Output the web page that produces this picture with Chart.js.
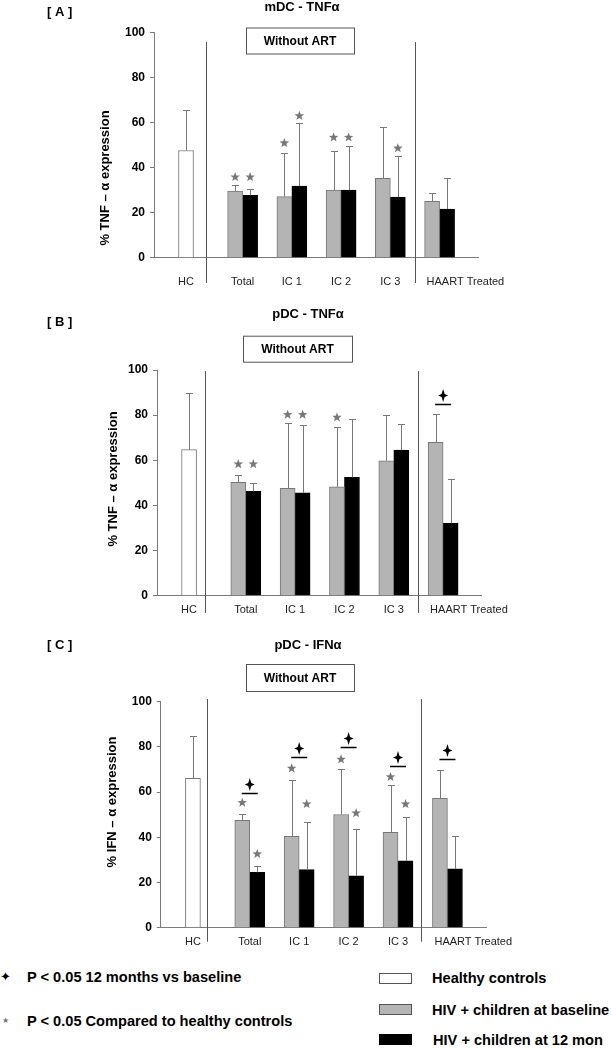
<!DOCTYPE html>
<html>
<head>
<meta charset="utf-8">
<script src="https://cdn.jsdelivr.net/npm/chart.js@4.4.1/dist/chart.umd.min.js"></script>
<style>
  body { margin: 0; background: #fff; font-family: 'Liberation Sans', Arial, sans-serif; }
  #page { position: relative; width: 611px; height: 1050px; overflow: hidden; }
  #page canvas { position: absolute; left: 0; }
  .leg { position: absolute; font-weight: bold; font-size: 14.6px; line-height: 16px; white-space: nowrap; color: #000; }
  .sw { position: absolute; width: 33px; height: 11px; box-sizing: border-box; border: 1px solid #555; }
  .glyph { position: absolute; line-height: 16px; font-family: 'DejaVu Sans', sans-serif; }
</style>
</head>
<body>
<div id="page">
  <canvas id="panelA" width="611" height="300" style="top:0px"></canvas>
  <canvas id="panelB" width="611" height="330" style="top:300px"></canvas>
  <canvas id="panelC" width="611" height="330" style="top:630px"></canvas>

  <span class="glyph" style="left:0px; top:969px; font-size:13px; color:#000">&#10022;</span>
  <span class="leg" style="left:27px; top:969px">P &lt; 0.05 12 months vs baseline</span>
  <span class="glyph" style="left:2px; top:1013px; font-size:8px; color:#777">&#9733;</span>
  <span class="leg" style="left:27px; top:1013px">P &lt; 0.05 Compared to healthy controls</span>

  <div class="sw" style="left:379px; top:973px; background:#fff"></div>
  <span class="leg" style="left:432px; top:970px">Healthy controls</span>
  <div class="sw" style="left:379px; top:1004px; background:#b4b4b4"></div>
  <span class="leg" style="left:432px; top:1002px">HIV + children at baseline</span>
  <div class="sw" style="left:379px; top:1034px; background:#000; border-color:#000"></div>
  <span class="leg" style="left:433px; top:1032px">HIV + children at 12 mon</span>
</div>

<script>
// values (% of cells expressing the cytokine)
const categories = ['HC', 'Total', 'IC 1', 'IC 2', 'IC 3', 'HAART Treated'];

// [A] mDC - TNFa
const mdcTnfHealthy    = [47.6, null, null, null, null, null];
const mdcTnfHealthyErr = [65.7, null, null, null, null, null];
const mdcTnfBase       = [null, 29.6, 27.1, 30.0, 35.2, 25.0];
const mdcTnfBaseErr    = [null, 32.1, 46.7, 47.3, 58.1, 28.6];
const mdcTnf12m        = [null, 27.7, 31.8, 30.0, 26.9, 21.6];
const mdcTnf12mErr     = [null, 30.6, 59.6, 49.4, 45.0, 35.5];
const mdcTnfStarBase   = [null, 35.8, 50.9, 53.4, null, null];
const mdcTnfStar12m    = [null, 35.8, 63.0, 53.4, 48.6, null];
const mdcTnfCross      = [null, null, null, null, null, null];

// [B] pDC - TNFa
const pdcTnfHealthy    = [64.7, null, null, null, null, null];
const pdcTnfHealthyErr = [89.7, null, null, null, null, null];
const pdcTnfBase       = [null, 50.2, 47.6, 48.2, 59.8, 67.9];
const pdcTnfBaseErr    = [null, 53.6, 76.7, 74.9, 79.9, 80.4];
const pdcTnf12m        = [null, 46.2, 45.6, 52.4, 64.5, 32.1];
const pdcTnf12mErr     = [null, 49.8, 75.6, 78.1, 75.9, 51.7];
const pdcTnfStarBase   = [null, 58.3, 80.2, 79.0, null, null];
const pdcTnfStar12m    = [null, 58.3, 80.2, null, null, null];
const pdcTnfCross      = [null, null, null, null, null, 85.0];

// [C] pDC - IFNa
const pdcIfnHealthy    = [66.1, null, null, null, null, null];
const pdcIfnHealthyErr = [84.8, null, null, null, null, null];
const pdcIfnBase       = [null, 47.5, 40.4, 50.1, 42.2, 57.2];
const pdcIfnBaseErr    = [null, 50.4, 65.5, 70.2, 63.3, 69.6];
const pdcIfn12m        = [null, 24.5, 25.7, 22.9, 29.6, 26.1];
const pdcIfn12mErr     = [null, 27.4, 46.8, 43.5, 49.0, 40.7];
const pdcIfnStarBase   = [null, 55.3, 70.5, 74.5, 66.7, null];
const pdcIfnStar12m    = [null, 32.6, 54.7, 50.7, 54.7, null];
const pdcIfnCross      = [null, 59.7, 75.4, 79.8, 71.7, 74.6];

const yTicks = [0, 20, 40, 60, 80, 100];

// layout: where the groups sit along the x axis (axis units), not data
const groupPos = [0.65, 1.8, 2.8, 3.8, 4.8, 5.8];
const xMax = 6.58;
const axisColor = '#7a7a7a';
const FONT = "'Liberation Sans', Arial, sans-serif";

Chart.defaults.font.family = FONT;

function drawStar(ctx, cx, cy, r, color) {
  ctx.beginPath();
  for (let k = 0; k < 10; k++) {
    const rad = k % 2 === 0 ? r : r * 0.42;
    const a = -Math.PI / 2 + k * Math.PI / 5;
    const px = cx + rad * Math.cos(a), py = cy + rad * Math.sin(a);
    k === 0 ? ctx.moveTo(px, py) : ctx.lineTo(px, py);
  }
  ctx.closePath();
  ctx.fillStyle = color;
  ctx.fill();
}

function drawCross(ctx, cx, cy) {
  // sharp four-pointed mark used for the 12 months vs baseline test
  ctx.beginPath();
  ctx.moveTo(cx, cy - 6.5);
  ctx.lineTo(cx + 1.5, cy - 1.5);
  ctx.lineTo(cx + 5, cy);
  ctx.lineTo(cx + 1.5, cy + 1.5);
  ctx.lineTo(cx, cy + 6.5);
  ctx.lineTo(cx - 1.5, cy + 1.5);
  ctx.lineTo(cx - 5, cy);
  ctx.lineTo(cx - 1.5, cy - 1.5);
  ctx.closePath();
  ctx.fillStyle = '#000';
  ctx.fill();
}

function decorPlugin(d, lay) {
  return {
    id: 'panelDecor',
    afterDatasetsDraw(chart) {
      const ctx = chart.ctx, xs = chart.scales.x, ys = chart.scales.y;
      ctx.save();
      // error bars (upper only) and significance stars
      chart.data.datasets.forEach((ds, di) => {
        chart.getDatasetMeta(di).data.forEach((bar, i) => {
          if (ds.err[i] == null) return;
          const bx = Math.round(bar.x) + 0.5;
          const top = Math.round(ys.getPixelForValue(ds.err[i])) + 0.5;
          ctx.strokeStyle = '#777';
          ctx.lineWidth = 1;
          ctx.beginPath();
          ctx.moveTo(bx, bar.y);
          ctx.lineTo(bx, top);
          ctx.moveTo(bx - 3.5, top);
          ctx.lineTo(bx + 3.5, top);
          ctx.stroke();
          if (ds.stars && ds.stars[i] != null) {
            drawStar(ctx, bar.x, ys.getPixelForValue(ds.stars[i]), 5, '#777');
          }
        });
      });
      // 12 months vs baseline marks
      d.cross.forEach((v, i) => {
        if (v == null) return;
        const gx = xs.getPixelForValue(groupPos[i]);
        const ly = Math.round(ys.getPixelForValue(v)) + 0.5;
        ctx.strokeStyle = '#000';
        ctx.lineWidth = 1.5;
        ctx.beginPath();
        ctx.moveTo(gx - 8, ly);
        ctx.lineTo(gx + 8, ly);
        ctx.stroke();
        drawCross(ctx, gx, ly - 9);
      });
      ctx.restore();
    },
    afterDraw(chart) {
      const ctx = chart.ctx, xs = chart.scales.x, ca = chart.chartArea;
      ctx.save();
      ctx.fillStyle = '#000';
      ctx.textBaseline = 'middle';
      // panel tag and title
      ctx.font = 'bold 13px ' + FONT;
      ctx.textAlign = 'left';
      ctx.fillText(lay.tag, lay.tagX, lay.tagY);
      ctx.textAlign = 'center';
      ctx.fillText(lay.title, lay.titleX, lay.titleY);
      // "Without ART" box
      ctx.strokeStyle = '#555';
      ctx.lineWidth = 1;
      ctx.strokeRect(lay.box[0] + 0.5, lay.box[1] + 0.5, lay.box[2], lay.box[3]);
      ctx.font = 'bold 12px ' + FONT;
      ctx.fillText('Without ART', lay.box[0] + lay.box[2] / 2, lay.box[1] + lay.box[3] / 2 + 1);
      // group dividers
      ctx.strokeStyle = '#555';
      ctx.beginPath();
      lay.dividers.forEach(p => {
        const x = Math.round(xs.getPixelForValue(p)) + 0.5;
        ctx.moveTo(x, lay.divTop);
        ctx.lineTo(x, lay.divBottom);
      });
      ctx.stroke();
      // category labels
      ctx.font = '11px ' + FONT;
      ctx.fillStyle = '#222';
      categories.forEach((c, i) => {
        const gx = xs.getPixelForValue(groupPos[i]);
        if (i === categories.length - 1) {
          ctx.textAlign = 'left';
          ctx.fillText(c, gx - 13, lay.catY);
        } else {
          ctx.textAlign = 'center';
          ctx.fillText(c, gx, lay.catY);
        }
      });
      // y axis title
      ctx.fillStyle = '#000';
      ctx.font = 'bold 13px ' + FONT;
      ctx.translate(lay.yTitleX, lay.yTitleY != null ? lay.yTitleY : (ca.top + ca.bottom) / 2);
      ctx.rotate(-Math.PI / 2);
      ctx.textAlign = 'center';
      ctx.fillText(lay.yTitle, 0, 0);
      ctx.restore();
    }
  };
}

function buildPanel(id, d, lay) {
  const pts = arr => arr.map((v, i) => ({ x: groupPos[i], y: v }));
  const common = { borderWidth: 1, barThickness: 15, skipNull: true, borderSkipped: 'start' };
  return new Chart(document.getElementById(id), {
    type: 'bar',
    data: {
      datasets: [
        Object.assign({ label: 'Healthy controls', data: pts(d.healthy), err: d.healthyErr,
          backgroundColor: '#fff', borderColor: '#777' }, common),
        Object.assign({ label: 'HIV + children at baseline', data: pts(d.base), err: d.baseErr, stars: d.starBase,
          backgroundColor: '#b4b4b4', borderColor: '#777' }, common),
        Object.assign({ label: 'HIV + children at 12 mon', data: pts(d.m12), err: d.m12Err, stars: d.star12m,
          backgroundColor: '#000', borderColor: '#000' }, common)
      ]
    },
    options: {
      responsive: false,
      animation: false,
      events: [],
      layout: { padding: { left: 0, top: lay.top, right: 611 - lay.right, bottom: lay.h - lay.bottom } },
      plugins: { legend: { display: false }, tooltip: { enabled: false } },
      scales: {
        x: {
          type: 'linear', min: 0, max: xMax, offset: false,
          grid: { display: false }, ticks: { display: false },
          border: { color: axisColor },
          afterFit: s => { s.height = 0; }
        },
        y: {
          min: 0, max: 100,
          afterBuildTicks: s => { s.ticks = yTicks.map(v => ({ value: v })); },
          ticks: { color: '#000', font: { size: 12, weight: 'bold' }, padding: 5 },
          grid: { drawOnChartArea: false, tickLength: 4, color: axisColor },
          border: { color: axisColor },
          afterFit: s => { s.width = lay.left; }
        }
      }
    },
    plugins: [decorPlugin(d, lay)]
  });
}

buildPanel('panelA', {
  healthy: mdcTnfHealthy, healthyErr: mdcTnfHealthyErr,
  base: mdcTnfBase, baseErr: mdcTnfBaseErr, starBase: mdcTnfStarBase,
  m12: mdcTnf12m, m12Err: mdcTnf12mErr, star12m: mdcTnfStar12m,
  cross: mdcTnfCross
}, {
  h: 300, left: 154, right: 478, top: 32.5, bottom: 257.7,
  tag: '[ A ]', tagX: 47, tagY: 12, title: 'mDC - TNF\u03b1', titleX: 302, titleY: 7,
  box: [246, 27.5, 108, 26], yTitle: '% TNF \u2013 \u03b1 expression', yTitleX: 105, yTitleY: 178,
  catY: 281.7, dividers: [1.05, 5.30], divTop: 42, divBottom: 283
});

buildPanel('panelB', {
  healthy: pdcTnfHealthy, healthyErr: pdcTnfHealthyErr,
  base: pdcTnfBase, baseErr: pdcTnfBaseErr, starBase: pdcTnfStarBase,
  m12: pdcTnf12m, m12Err: pdcTnf12mErr, star12m: pdcTnfStar12m,
  cross: pdcTnfCross
}, {
  h: 330, left: 157, right: 481.6, top: 70, bottom: 295.7,
  tag: '[ B ]', tagX: 47, tagY: 22, title: 'pDC - TNF\u03b1', titleX: 308, titleY: 14,
  box: [243, 35.7, 109, 26], yTitle: '% TNF \u2013 \u03b1 expression', yTitleX: 113, yTitleY: 179,
  catY: 310.3, dividers: [0.97, 5.30], divTop: 71, divBottom: 313
});

buildPanel('panelC', {
  healthy: pdcIfnHealthy, healthyErr: pdcIfnHealthyErr,
  base: pdcIfnBase, baseErr: pdcIfnBaseErr, starBase: pdcIfnStarBase,
  m12: pdcIfn12m, m12Err: pdcIfn12mErr, star12m: pdcIfnStar12m,
  cross: pdcIfnCross
}, {
  h: 330, left: 160.8, right: 486, top: 71.7, bottom: 297.7,
  tag: '[ C ]', tagX: 47, tagY: 15, title: 'pDC - IFN\u03b1', titleX: 308, titleY: 15,
  box: [246, 34, 108, 27], yTitle: '% IFN \u2013 \u03b1 expression', yTitleX: 112, yTitleY: 172,
  catY: 312, dividers: [0.94, 5.26], divTop: 69, divBottom: 311.7
});
</script>
</body>
</html>
